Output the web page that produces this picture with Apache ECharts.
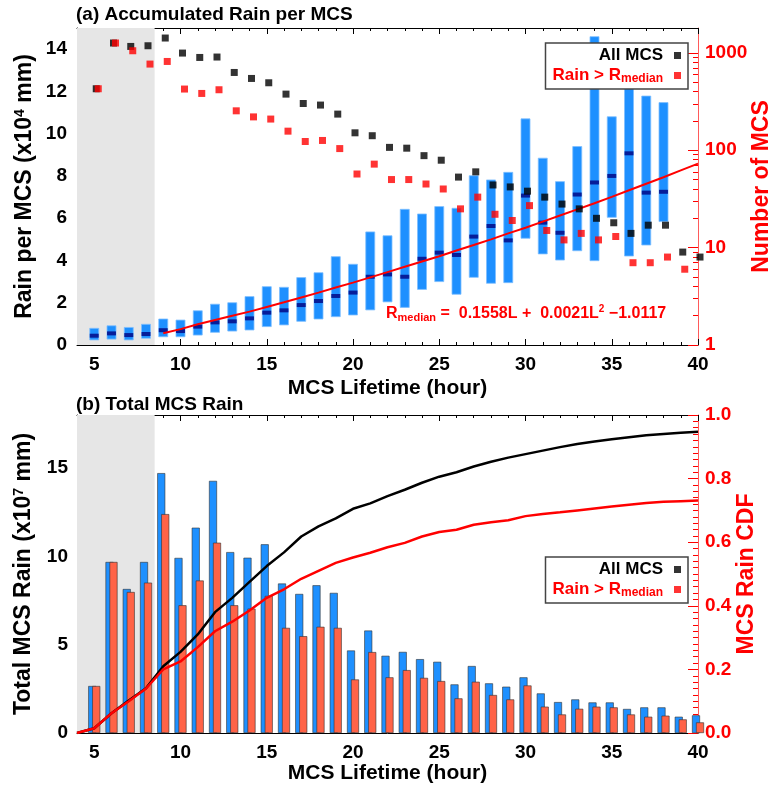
<!DOCTYPE html>
<html>
<head>
<meta charset="utf-8" />
<title>MCS rain</title>
<script src="https://cdn.jsdelivr.net/npm/echarts@6/dist/echarts.min.js"></script>
<style>
  body { margin: 0; background: #fff; }
  #main { width: 773px; height: 787px; }
</style>
</head>
<body>
<div id="main"></div>
<script>
// ---- panel (a): accumulated rain per MCS (x10^4 mm) ----
var boxHours  = [5,6,7,8,9,10,11,12,13,14,15,16,17,18,19,20,21,22,23,24,25,26,27,28,29,30,31,32,33,34,35,36,37,38];
var rainLow   = [0.24,0.28,0.24,0.32,0.39,0.39,0.47,0.60,0.66,0.71,0.87,0.95,1.12,1.23,1.34,1.42,1.66,2.04,1.78,2.63,3.00,2.40,3.20,2.92,2.95,5.05,4.31,4.02,4.46,3.99,6.04,4.21,4.73,5.84];
var rainHigh  = [0.79,0.91,0.83,0.98,1.23,1.18,1.62,1.93,2.00,2.29,2.76,2.73,3.19,3.42,4.18,3.82,5.35,5.17,6.42,6.20,6.55,6.47,8.01,7.81,8.17,10.70,8.84,7.73,9.39,14.59,10.80,14.00,11.78,11.47];
var rainMed   = [0.44,0.55,0.47,0.52,0.70,0.66,0.87,1.07,1.12,1.26,1.53,1.64,1.89,2.08,2.32,2.48,3.23,3.34,3.23,4.08,4.37,4.26,5.13,5.63,4.95,7.07,5.79,5.31,7.12,7.69,8.00,9.07,7.21,7.25];

var fitHours  = [9,10,11,12,13,14,15,16,17,18,19,20,21,22,23,24,25,26,27,28,29,30,31,32,33,34,35,36,37,38,39,40];
var fitValues = [0.56,0.75,0.98,1.18,1.38,1.58,1.80,2.02,2.25,2.48,2.72,2.95,3.20,3.45,3.70,3.95,4.20,4.47,4.73,5.00,5.28,5.55,5.84,6.13,6.42,6.71,7.01,7.32,7.63,7.94,8.26,8.58];

var allHours  = [5,6,7,8,9,10,11,12,13,14,15,16,17,18,19,20,21,22,23,24,25,26,27,28,29,30,31,32,33,34,35,36,37,38,39,40];
var allCount  = [428,1262,1164,1183,1420,995,897,906,629,546,493,377,302,291,235,151,141,107,105,88,79,53,60,44,42,38,33,28,25,20,18,14,17,17,9,8];
var bigHours  = [5,6,7,8,9,10,11,12,13,14,15,16,17,18,19,20,21,22,23,24,25,26,27,28,29,30,31,32,33,34,35,36,37,38,39];
var bigCount  = [428,1262,1051,767,816,425,383,418,254,220,209,157,123,126,104,57,72,50,50,45,40,25,33,22,19,27,15,12,14,12,13,7,7,8,6];

// ---- panel (b): total MCS rain (x10^7 mm) and CDF ----
var totHours  = [5,6,7,8,9,10,11,12,13,14,15,16,17,18,19,20,21,22,23,24,25,26,27,28,29,30,31,32,33,34,35,36,37,38,39,40];
var totAll    = [2.66,9.68,8.15,9.68,14.71,9.91,11.62,14.27,10.24,9.92,10.68,8.46,7.87,8.36,7.93,4.67,5.80,4.37,4.59,4.18,4.03,2.75,3.79,2.81,2.62,3.15,2.24,1.75,1.90,1.73,1.73,1.36,1.45,1.45,0.92,1.00];
var totBig    = [2.66,9.68,7.98,8.51,12.39,7.23,8.63,10.77,7.23,7.04,7.76,5.95,5.48,6.01,5.95,3.03,4.58,3.15,3.56,3.12,2.94,1.96,2.90,2.15,1.90,2.69,1.49,1.05,1.37,1.49,1.45,1.05,0.92,0.98,0.77,0.60];

var cdfHours  = [4,5,6,7,8,9,10,11,12,13,14,15,16,17,18,19,20,21,22,23,24,25,26,27,28,29,30,31,32,33,34,35,36,37,38,39,40];
var cdfAll    = [0,0.015,0.062,0.102,0.141,0.210,0.255,0.310,0.380,0.425,0.475,0.525,0.568,0.618,0.650,0.675,0.705,0.722,0.745,0.765,0.787,0.806,0.820,0.838,0.853,0.866,0.877,0.888,0.899,0.909,0.917,0.924,0.930,0.936,0.940,0.944,0.947];
var cdfBig    = [0,0.015,0.062,0.100,0.140,0.200,0.225,0.270,0.320,0.350,0.385,0.425,0.452,0.485,0.510,0.535,0.552,0.567,0.584,0.598,0.618,0.632,0.639,0.655,0.663,0.669,0.682,0.689,0.694,0.700,0.706,0.712,0.718,0.723,0.727,0.729,0.731];

// ---- ticks ----
var xMajorTicks = [5,10,15,20,25,30,35,40];
var logMinorTicks = [2,3,4,5,6,7,8,9,20,30,40,50,60,70,80,90,200,300,400,500,600,700,800,900];
var shadeRange = [4, 8.5];

var FONT = 'Liberation Sans';
var RED = '#ff0000';

function pairs(xs, ys) {
  return xs.map(function (x, i) { return [x, ys[i]]; });
}

function xAxes(grid, top) {
  var pos = top ? 'top' : 'bottom';
  var main = {
    type: 'value', gridIndex: grid, position: pos, min: 4, max: 40,
    splitLine: { show: false },
    axisLine: { show: true, onZero: false, lineStyle: { color: '#000', width: 1 } },
    axisTick: { inside: true, length: 6, customValues: xMajorTicks, lineStyle: { color: '#000' } },
    axisLabel: { show: !top, customValues: xMajorTicks, margin: 10,
      color: '#000', fontFamily: FONT, fontWeight: 'bold', fontSize: 19 }
  };
  if (!top) {
    main.name = 'MCS Lifetime (hour)';
    main.nameLocation = 'middle';
    main.nameMoveOverlap = false;
    main.nameGap = grid === 0 ? 33 : 30;
    main.nameTextStyle = { color: '#000', fontFamily: FONT, fontWeight: 'bold', fontSize: 21 };
  }
  var minor = {
    type: 'value', gridIndex: grid, position: pos, min: 4, max: 40, interval: 1,
    splitLine: { show: false }, axisLine: { show: false, onZero: false },
    axisLabel: { show: false },
    axisTick: { inside: true, length: 3, lineStyle: { color: '#000' } }
  };
  return [main, minor];
}

function minorY(grid, pos, min, max, interval, color, len, custom) {
  var ax = {
    type: 'value', gridIndex: grid, position: pos, min: min, max: max,
    splitLine: { show: false }, axisLine: { show: false, onZero: false },
    axisLabel: { show: false },
    axisTick: { inside: true, length: len, lineStyle: { color: color } }
  };
  if (custom) ax.axisTick.customValues = custom; else ax.interval = interval;
  return ax;
}

var logTop = Math.log10(1800);
var logMinorPos = logMinorTicks.map(function (v) { return Math.log10(v); });

var labelFont = { fontFamily: FONT, fontWeight: 'bold', fontSize: 19 };
var nameFont = { fontFamily: FONT, fontWeight: 'bold', fontSize: 23 };

var myChart = echarts.init(document.getElementById('main'));

var option = {
  animation: false,
  textStyle: { fontFamily: FONT },
  title: [
    { text: '(a) Accumulated Rain per MCS', left: 76, top: 5, padding: 0,
      textStyle: { fontFamily: FONT, fontWeight: 'bold', fontSize: 19, color: '#000' } },
    { text: '(b) Total MCS Rain', left: 76, top: 395, padding: 0,
      textStyle: { fontFamily: FONT, fontWeight: 'bold', fontSize: 19, color: '#000' } }
  ],
  grid: [
    { left: 77, top: 28, width: 621, height: 317, containLabel: false, outerBoundsMode: 'none' },
    { left: 77, top: 415, width: 621, height: 318, containLabel: false, outerBoundsMode: 'none' }
  ],
  legend: [0, 1].map(function (i) {
    return {
      orient: 'vertical', align: 'right', right: 85, top: i === 0 ? 43 : 557,
      selectedMode: false, itemWidth: 7, itemHeight: 7, itemGap: 3,
      padding: [4, 7, 4, 7],
      backgroundColor: '#fff', borderColor: '#444', borderWidth: 1.5, borderRadius: 0,
      textStyle: {
        fontFamily: FONT, fontWeight: 'bold', fontSize: 17, padding: [0, 6, 0, 0],
        rich: {
          b: { fontFamily: FONT, fontWeight: 'bold', fontSize: 17 },
          s: { fontFamily: FONT, fontWeight: 'bold', fontSize: 12, verticalAlign: 'bottom', padding: [7, 0, 0, 0] }
        }
      },
      formatter: function (name) {
        if (name === 'Rain > Rmedian') return '{b|Rain > R}{s|median}';
        return '{b|' + name + '}';
      },
      data: [
        { name: 'All MCS', icon: 'rect', textStyle: { color: '#000' } },
        { name: 'Rain > Rmedian', icon: 'rect', textStyle: { color: RED } }
      ]
    };
  }),
  xAxis: [].concat(xAxes(0, false), xAxes(0, true), xAxes(1, false), xAxes(1, true)),
  yAxis: [
    // 0: (a) left
    { type: 'value', gridIndex: 0, position: 'left', min: 0, max: 15, interval: 2,
      splitLine: { show: false },
      axisLine: { show: true, onZero: false, lineStyle: { color: '#000' } },
      axisTick: { inside: true, length: 12, lineStyle: { color: '#000' } },
      axisLabel: Object.assign({ color: '#000', margin: 10, showMaxLabel: false }, labelFont),
      name: '{a|Rain per MCS (x10}{p|4}{a| mm)}', nameLocation: 'middle', nameRotate: 90,
      nameGap: 41, nameMoveOverlap: false,
      nameTextStyle: { color: '#000', rich: {
        a: Object.assign({ color: '#000' }, nameFont),
        p: { fontFamily: FONT, fontWeight: 'bold', fontSize: 14, verticalAlign: 'top', color: '#000' } } } },
    // 1: (a) left minor
    minorY(0, 'left', 0, 15, 0.5, '#000', 6),
    // 2: (a) right log
    { type: 'log', logBase: 10, gridIndex: 0, position: 'right', min: 1, max: 1800,
      splitLine: { show: false },
      axisLine: { show: true, onZero: false, lineStyle: { color: '#ff5a5a' } },
      axisTick: { inside: true, length: 10, lineStyle: { color: RED } },
      axisLabel: Object.assign({ color: RED, margin: 7, showMaxLabel: false,
        formatter: function (v) { return String(Math.round(v)); } }, labelFont),
      name: 'Number of MCS', nameLocation: 'middle', nameRotate: 90,
      nameGap: 52, nameMoveOverlap: false,
      nameTextStyle: Object.assign({ color: RED }, nameFont) },
    // 3: (a) right minor (log positions)
    minorY(0, 'right', 0, logTop, null, RED, 5, logMinorPos),
    // 4: (b) left
    { type: 'value', gridIndex: 1, position: 'left', min: 0, max: 18, interval: 5,
      splitLine: { show: false },
      axisLine: { show: true, onZero: false, lineStyle: { color: '#000' } },
      axisTick: { inside: true, length: 12, lineStyle: { color: '#000' } },
      axisLabel: Object.assign({ color: '#000', margin: 9, showMaxLabel: false }, labelFont),
      name: '{a|Total MCS Rain (x10}{p|7}{a| mm)}', nameLocation: 'middle', nameRotate: 90,
      nameGap: 42, nameMoveOverlap: false,
      nameTextStyle: { color: '#000', rich: {
        a: Object.assign({ color: '#000' }, nameFont),
        p: { fontFamily: FONT, fontWeight: 'bold', fontSize: 14, verticalAlign: 'top', color: '#000' } } } },
    // 5: (b) left minor
    minorY(1, 'left', 0, 18, 1, '#000', 6),
    // 6: (b) right CDF
    { type: 'value', gridIndex: 1, position: 'right', min: 0, max: 1, interval: 0.2,
      splitLine: { show: false },
      axisLine: { show: true, onZero: false, lineStyle: { color: '#ff5a5a' } },
      axisTick: { inside: true, length: 10, lineStyle: { color: RED } },
      axisLabel: Object.assign({ color: RED, margin: 7,
        formatter: function (v) { return v.toFixed(1); } }, labelFont),
      name: 'MCS Rain CDF', nameLocation: 'middle', nameRotate: 90,
      nameGap: 37, nameMoveOverlap: false,
      nameTextStyle: Object.assign({ color: RED }, nameFont) },
    // 7: (b) right minor
    minorY(1, 'right', 0, 1, 0.02, RED, 5)
  ],
  graphic: [
    { type: 'text', left: 386, top: 304, z: 10,
      style: {
        text: '{r|R}{s|median}{r| =  0.1558L +  0.0021L}{p|2}{r| \u22121.0117}',
        fill: RED,
        rich: {
          r: { fontFamily: FONT, fontWeight: 'bold', fontSize: 16, fill: RED },
          s: { fontFamily: FONT, fontWeight: 'bold', fontSize: 11, fill: RED, verticalAlign: 'bottom', padding: [8, 0, 0, 0] },
          p: { fontFamily: FONT, fontWeight: 'bold', fontSize: 10, fill: RED, verticalAlign: 'top' }
        }
      } }
  ],
  series: [
    { name: 'iqr', type: 'custom', xAxisIndex: 0, yAxisIndex: 0, z: 2,
      data: boxHours.map(function (h, i) { return [h, rainLow[i], rainHigh[i]]; }),
      encode: { x: 0, y: [1, 2] },
      renderItem: function (params, api) {
        var top = api.coord([api.value(0), api.value(2)]);
        var bot = api.coord([api.value(0), api.value(1)]);
        var w = 9;
        return { type: 'rect',
          shape: { x: top[0] - w / 2, y: top[1], width: w, height: bot[1] - top[1] },
          style: { fill: '#1e90ff', stroke: '#7fbfff', lineWidth: 0.8 } };
      } },
    { name: 'median', type: 'scatter', xAxisIndex: 0, yAxisIndex: 0, z: 3,
      symbol: 'rect', symbolSize: [9, 4],
      itemStyle: { color: '#00007f' },
      data: pairs(boxHours, rainMed),
      markArea: { silent: true, itemStyle: { color: '#e6e6e6' },
        data: [[{ xAxis: shadeRange[0] }, { xAxis: shadeRange[1] }]] } },
    { name: 'fit', type: 'line', xAxisIndex: 0, yAxisIndex: 0, z: 4,
      symbol: 'none', lineStyle: { color: RED, width: 2 },
      data: pairs(fitHours, fitValues) },
    { name: 'All MCS', type: 'scatter', xAxisIndex: 0, yAxisIndex: 2, z: 5,
      symbol: 'rect', symbolSize: 7, symbolOffset: [2, 0],
      itemStyle: { color: '#000' },
      data: pairs(allHours, allCount) },
    { name: 'Rain > Rmedian', type: 'scatter', xAxisIndex: 0, yAxisIndex: 2, z: 6,
      symbol: 'rect', symbolSize: 7, symbolOffset: [4, 0],
      itemStyle: { color: RED },
      data: pairs(bigHours, bigCount) },

    { name: 'totAll', type: 'bar', xAxisIndex: 4, yAxisIndex: 4, z: 2,
      barWidth: 8, barGap: '-50%',
      itemStyle: { color: '#1e90ff', borderColor: '#333', borderWidth: 0.6 },
      data: pairs(totHours, totAll) },
    { name: 'totBig', type: 'bar', xAxisIndex: 4, yAxisIndex: 4, z: 2,
      barWidth: 8, barGap: '-50%',
      itemStyle: { color: '#ff6347', borderColor: '#333', borderWidth: 0.6 },
      data: pairs(totHours, totBig) },
    { name: 'All MCS', type: 'line', xAxisIndex: 4, yAxisIndex: 6, z: 4,
      symbol: 'none', lineStyle: { color: '#000', width: 2.5 },
      itemStyle: { color: '#000' },
      data: pairs(cdfHours, cdfAll),
      markArea: { silent: true, itemStyle: { color: '#e6e6e6' },
        data: [[{ xAxis: shadeRange[0] }, { xAxis: shadeRange[1] }]] } },
    { name: 'Rain > Rmedian', type: 'line', xAxisIndex: 4, yAxisIndex: 6, z: 4,
      symbol: 'none', lineStyle: { color: RED, width: 2.5 },
      itemStyle: { color: RED },
      data: pairs(cdfHours, cdfBig) }
  ]
};

myChart.setOption(option);
</script>
</body>
</html>
